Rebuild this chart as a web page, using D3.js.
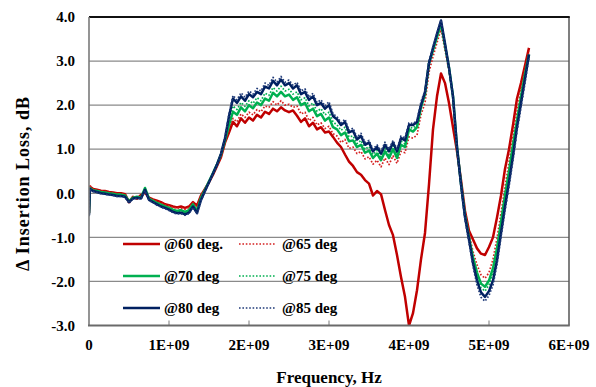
<!DOCTYPE html>
<html><head><meta charset="utf-8">
<script src="https://cdn.jsdelivr.net/npm/d3@7"></script>
<style>body{margin:0;background:#fff} svg{display:block}</style>
</head><body><svg id="c" width="596" height="387"></svg>
<script>
// Frequency (GHz) shared by all series
const freqGHz = [0.00,0.01,0.05,0.10,0.15,0.20,0.25,0.30,0.35,0.40,0.45,0.50,0.55,0.60,0.65,0.70,0.75,0.80,0.85,0.90,0.95,
1.00,1.05,1.10,1.15,1.20,1.25,1.30,1.35,1.40,1.45,1.50,1.55,1.60,1.65,1.70,1.75,1.80,1.85,1.90,1.95,
2.00,2.05,2.10,2.15,2.20,2.25,2.30,2.35,2.40,2.45,2.50,2.55,2.60,2.65,2.70,2.75,2.80,2.85,2.90,2.95,
3.00,3.05,3.10,3.15,3.20,3.25,3.30,3.35,3.40,3.45,3.50,3.55,3.60,3.65,3.70,3.75,3.80,3.85,3.90,3.95,
4.00,4.05,4.10,4.15,4.20,4.25,4.30,4.35,4.40,4.45,4.50,4.55,4.60,4.65,4.70,4.75,4.80,4.85,4.90,4.95,
5.00,5.05,5.10,5.15,5.20,5.25,5.30,5.35,5.40,5.45,5.50];

const loss60 = [-0.45,0.15,0.10,0.08,0.06,0.05,0.03,0.02,0.00,0.00,-0.02,-0.20,-0.08,-0.12,-0.04,0.02,-0.10,-0.14,-0.17,-0.20,-0.25,
-0.27,-0.30,-0.32,-0.30,-0.33,-0.30,-0.20,-0.28,-0.05,0.10,0.25,0.42,0.62,0.82,1.15,1.38,1.62,1.52,1.70,1.60,
1.72,1.65,1.78,1.72,1.85,1.80,1.92,1.86,1.95,1.88,1.84,1.88,1.76,1.62,1.70,1.52,1.60,1.45,1.50,1.38,
1.40,1.28,1.15,1.05,0.88,0.72,0.62,0.48,0.42,0.30,0.22,-0.05,0.05,-0.02,-0.38,-0.72,-0.95,-1.40,-1.90,-2.35,
-3.00,-2.72,-2.20,-1.50,-0.90,0.20,1.45,2.20,2.72,2.50,2.05,1.50,0.95,0.30,-0.40,-0.85,-1.05,-1.25,-1.37,-1.40,
-1.22,-1.00,-0.55,-0.05,0.55,1.00,1.55,2.15,2.50,2.90,3.30];

const loss65 = [-0.43,0.18,0.09,0.07,0.05,0.04,0.02,0.01,-0.01,-0.01,-0.03,-0.23,-0.09,-0.13,-0.05,0.00,-0.11,-0.15,-0.19,-0.22,-0.26,
-0.29,-0.32,-0.34,-0.33,-0.36,-0.32,-0.22,-0.32,-0.07,0.09,0.25,0.43,0.63,0.84,1.17,1.45,1.70,1.62,1.80,1.72,
1.84,1.78,1.90,1.85,1.98,1.95,2.08,2.00,2.10,2.00,2.02,1.95,1.98,1.80,1.84,1.65,1.72,1.55,1.60,1.47,
1.52,1.35,1.30,1.15,1.22,1.02,1.05,0.90,0.95,0.78,0.83,0.66,0.75,0.60,0.80,0.65,0.85,0.68,0.95,0.92,
1.28,1.25,1.32,1.78,2.05,2.75,3.10,3.42,3.72,3.25,2.78,2.15,1.05,0.25,-0.45,-0.92,-1.32,-1.62,-1.85,-1.93,
-1.80,-1.50,-1.02,-0.45,0.15,0.70,1.30,1.85,2.35,2.80,3.22];

const loss70 = [-0.45,0.12,0.07,0.05,0.03,0.02,0.00,-0.01,-0.03,-0.03,-0.05,-0.18,-0.10,-0.08,-0.10,0.12,-0.12,-0.17,-0.22,-0.26,-0.30,
-0.33,-0.37,-0.40,-0.38,-0.42,-0.38,-0.25,-0.40,-0.10,0.08,0.27,0.46,0.66,0.88,1.20,1.55,1.85,1.78,1.95,1.86,
2.00,1.93,2.06,2.00,2.15,2.10,2.28,2.20,2.30,2.20,2.24,2.12,2.18,2.00,2.05,1.86,1.92,1.75,1.80,1.65,
1.72,1.50,1.45,1.32,1.38,1.18,1.20,1.05,1.10,0.92,0.97,0.80,0.90,0.75,0.95,0.80,1.00,0.80,1.10,1.05,
1.45,1.40,1.50,1.95,2.25,2.95,3.25,3.55,3.85,3.35,2.85,2.20,1.05,0.22,-0.50,-1.00,-1.45,-1.80,-2.05,-2.12,
-1.98,-1.70,-1.25,-0.65,-0.05,0.50,1.10,1.65,2.20,2.70,3.15];

const loss75 = [-0.47,0.11,0.06,0.04,0.02,0.00,-0.01,-0.02,-0.04,-0.04,-0.06,-0.19,-0.11,-0.09,-0.11,0.10,-0.13,-0.18,-0.23,-0.28,-0.31,
-0.35,-0.39,-0.42,-0.41,-0.45,-0.41,-0.27,-0.42,-0.12,0.06,0.26,0.45,0.65,0.89,1.22,1.62,1.98,1.90,2.06,1.97,
2.10,2.04,2.17,2.10,2.27,2.22,2.40,2.32,2.43,2.32,2.36,2.25,2.30,2.12,2.17,1.98,2.05,1.86,1.92,1.78,
1.84,1.62,1.55,1.43,1.50,1.28,1.30,1.13,1.20,1.00,1.06,0.88,0.97,0.83,1.02,0.88,1.08,0.88,1.18,1.12,
1.50,1.48,1.56,2.00,2.28,2.97,3.28,3.58,3.88,3.37,2.83,2.20,1.02,0.20,-0.52,-1.03,-1.50,-1.88,-2.14,-2.22,
-2.08,-1.80,-1.35,-0.75,-0.15,0.40,1.00,1.57,2.12,2.65,3.12];

const loss80 = [-0.50,0.10,0.05,0.03,0.00,-0.01,-0.03,-0.04,-0.06,-0.06,-0.08,-0.20,-0.12,-0.10,-0.12,0.08,-0.15,-0.20,-0.25,-0.30,-0.33,
-0.37,-0.42,-0.45,-0.44,-0.48,-0.44,-0.30,-0.45,-0.15,0.05,0.25,0.45,0.65,0.90,1.25,1.75,2.15,2.05,2.20,2.10,
2.25,2.18,2.30,2.25,2.42,2.38,2.55,2.45,2.58,2.45,2.50,2.38,2.45,2.25,2.30,2.12,2.20,2.00,2.05,1.92,
2.00,1.75,1.68,1.55,1.62,1.38,1.42,1.22,1.30,1.10,1.15,0.95,1.05,0.90,1.10,0.95,1.15,0.95,1.25,1.20,
1.55,1.55,1.62,2.00,2.30,2.95,3.30,3.62,3.92,3.40,2.85,2.20,1.05,0.20,-0.54,-1.05,-1.58,-1.98,-2.25,-2.35,
-2.22,-1.98,-1.52,-0.90,-0.30,0.25,0.85,1.50,2.05,2.60,3.15];

const loss85 = [-0.52,0.09,0.04,0.02,-0.01,-0.02,-0.04,-0.05,-0.07,-0.07,-0.09,-0.22,-0.13,-0.11,-0.13,0.06,-0.16,-0.21,-0.27,-0.31,-0.35,
-0.39,-0.44,-0.47,-0.46,-0.50,-0.46,-0.32,-0.47,-0.17,0.04,0.24,0.44,0.64,0.90,1.27,1.80,2.22,2.12,2.28,2.18,
2.32,2.25,2.38,2.32,2.50,2.45,2.63,2.52,2.65,2.52,2.57,2.45,2.52,2.32,2.37,2.18,2.27,2.06,2.12,1.98,
2.08,1.80,1.74,1.60,1.68,1.43,1.48,1.27,1.36,1.15,1.20,1.00,1.10,0.95,1.16,1.00,1.20,1.00,1.30,1.25,
1.60,1.58,1.65,2.08,2.33,3.02,3.32,3.63,3.93,3.38,2.82,2.15,1.00,0.15,-0.60,-1.12,-1.66,-2.08,-2.36,-2.45,
-2.32,-2.08,-1.62,-1.00,-0.40,0.15,0.75,1.40,1.95,2.50,3.08];

const seriesNames = ["@60 deg.", "@65 deg", "@70 deg", "@75 deg", "@80 deg", "@85 deg"];
const seriesColors = ["#C00000", "#D42020", "#00B050", "#00B050", "#002060", "#1F3A78"];
const seriesDotted = [false, true, false, true, false, true];
const seriesValues = [loss60, loss65, loss70, loss75, loss80, loss85];

const yTicks = [-3, -2, -1, 0, 1, 2, 3, 4];
const yTickLabels = ["-3.0", "-2.0", "-1.0", "0.0", "1.0", "2.0", "3.0", "4.0"];
const xTicks = [0, 1, 2, 3, 4, 5, 6];
const xTickLabels = ["0", "1E+09", "2E+09", "3E+09", "4E+09", "5E+09", "6E+09"];
const xTitle = "Frequency, Hz";
const yTitle = "\u0394  Insertion Loss, dB";

const L = 89, R = 569, T = 17, B = 325.5;
const svg = d3.select("#c");
const x = d3.scaleLinear().domain([0, 6]).range([L, R]);
const y = d3.scaleLinear().domain([-3, 4]).range([B, T]);
const serif = "'Liberation Serif','Times New Roman',serif";

// grid
svg.append("g").selectAll("line").data(yTicks.filter(d => d > -3 && d < 4)).join("line")
  .attr("x1", L).attr("x2", R).attr("y1", d => y(d)).attr("y2", d => y(d))
  .attr("stroke", "#8a8a8a").attr("stroke-width", 1.2);

// x tick marks (inward)
svg.append("g").selectAll("line").data(xTicks.filter(d => d > 0 && d < 6)).join("line")
  .attr("x1", d => x(d)).attr("x2", d => x(d)).attr("y1", B).attr("y2", B - 5)
  .attr("stroke", "#909090").attr("stroke-width", 1.2);

// series
const line = d3.line().x((d, i) => x(freqGHz[i])).y(d => y(d));
svg.append("clipPath").attr("id", "pc").append("rect")
  .attr("x", L).attr("y", T - 4).attr("width", R - L).attr("height", B - T + 4);
const sg = svg.append("g").attr("clip-path", "url(#pc)");
seriesValues.forEach((vals, k) => {
  sg.append("path").datum(vals).attr("d", line).attr("fill", "none")
    .attr("stroke", seriesColors[k])
    .attr("stroke-width", seriesDotted[k] ? 1.7 : 2.5)
    .attr("stroke-dasharray", seriesDotted[k] ? "1.6,1.8" : null)
    .attr("stroke-linejoin", "round");
});

// frame
svg.append("line").attr("x1", R).attr("x2", R).attr("y1", T).attr("y2", B).attr("stroke", "#555").attr("stroke-width", 1.5);
svg.append("line").attr("x1", L).attr("x2", R + 0.75).attr("y1", T).attr("y2", T).attr("stroke", "#111").attr("stroke-width", 2);
svg.append("line").attr("x1", L).attr("x2", L).attr("y1", T).attr("y2", B).attr("stroke", "#7a7a7a").attr("stroke-width", 1.6);
svg.append("line").attr("x1", L - 1).attr("x2", R + 0.75).attr("y1", B).attr("y2", B).attr("stroke", "#6a6a6a").attr("stroke-width", 2);

// y tick labels
svg.append("g").selectAll("text").data(yTicks).join("text")
  .attr("x", 75).attr("y", d => y(d)).attr("dy", "0.35em").attr("text-anchor", "end")
  .attr("font-family", serif).attr("font-weight", "bold").attr("font-size", 15)
  .text((d, i) => yTickLabels[i]);

// x tick labels
svg.append("g").selectAll("text").data(xTicks).join("text")
  .attr("x", d => x(d)).attr("y", 350).attr("text-anchor", "middle")
  .attr("font-family", serif).attr("font-weight", "bold").attr("font-size", 15)
  .text((d, i) => xTickLabels[i]);

// axis titles
svg.append("text").attr("x", 329).attr("y", 383).attr("text-anchor", "middle")
  .attr("font-family", serif).attr("font-weight", "bold").attr("font-size", 17).text(xTitle);
svg.append("text").attr("transform", "translate(29,184) rotate(-90)").attr("text-anchor", "middle")
  .attr("font-family", serif).attr("font-weight", "bold").attr("font-size", 18)
  .attr("textLength", 174).attr("lengthAdjust", "spacing").text(yTitle);

// legend
const legRows = [244, 276, 308];
const legCols = [123, 239];
seriesNames.forEach((name, k) => {
  const cx = legCols[k % 2], cy = legRows[Math.floor(k / 2)];
  svg.append("line").attr("x1", cx).attr("x2", cx + 37).attr("y1", cy).attr("y2", cy)
    .attr("stroke", seriesColors[k]).attr("stroke-width", seriesDotted[k] ? 1.6 : 2.4)
    .attr("stroke-dasharray", seriesDotted[k] ? "1.6,1.8" : null);
  svg.append("text").attr("x", cx + (seriesDotted[k] ? 43 : 41)).attr("y", cy).attr("dy", "0.35em")
    .attr("font-family", serif).attr("font-weight", "bold").attr("font-size", 15).text(name);
});
</script></body></html>
